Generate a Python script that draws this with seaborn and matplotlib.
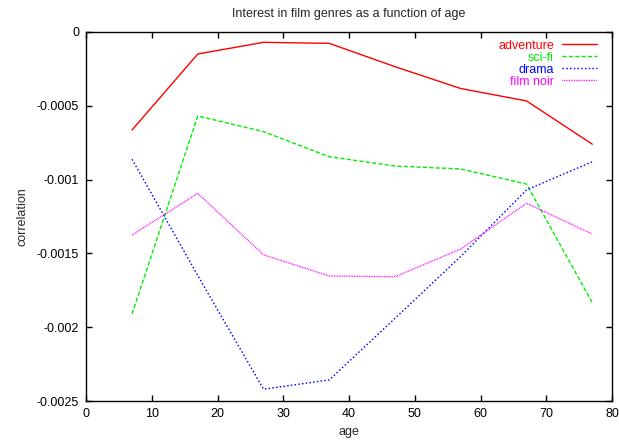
import numpy as np
import pandas as pd
import matplotlib
matplotlib.use("Agg")
import matplotlib.pyplot as plt
import matplotlib.ticker as mticker
import seaborn as sns

ages = [7, 17, 27, 37, 47, 57, 67, 77]
genres = ["adventure", "sci-fi", "drama", "film noir"]

adventure = [-0.000664, -0.000149, -0.000070, -0.000077, -0.000235, -0.000383, -0.000467, -0.000760]
scifi = [-0.00191, -0.000569, -0.000675, -0.000845, -0.000908, -0.000928, -0.00103, -0.001834]
drama = [-0.000862, -0.00165, -0.00242, -0.002357, -0.00194, -0.00152, -0.00107, -0.000879]
film_noir = [-0.001375, -0.001093, -0.00151, -0.001653, -0.001658, -0.00147, -0.00116, -0.001369]

colors = ["#ff0000", "#00ee00", "#0000ff", "#ff00ff"]
dashes = [None, (3, 1.6), (1.1, 1.6), (0.6, 0.6)]

df = pd.DataFrame({"age": ages * 4,
                   "genre": np.repeat(genres, len(ages)),
                   "correlation": adventure + scifi + drama + film_noir})

sns.set_theme(style="white")
plt.rcParams["font.family"] = ["Liberation Sans", "DejaVu Sans"]
plt.rcParams["font.size"] = 9

fig = plt.figure(figsize=(6.19, 4.43), dpi=100)
ax = fig.add_axes([86 / 619, 1 - 401 / 443, (612 - 86) / 619, (401 - 32) / 443])

for g, c, d in zip(genres, colors, dashes):
    sub = df[df["genre"] == g]
    line = sns.lineplot(data=sub, x="age", y="correlation", ax=ax, color=c,
                        linewidth=1.0, label=g).lines[-1]
    if d is not None:
        line.set_dashes(d)

ax.set_xlim(0, 80)
ax.set_ylim(-0.0025, 0)
ax.xaxis.set_major_locator(mticker.MultipleLocator(10))
ax.yaxis.set_major_locator(mticker.MultipleLocator(0.0005))
ax.yaxis.set_major_formatter(mticker.FuncFormatter(lambda v, p: "%g" % round(v, 6)))
ax.tick_params(direction="in", length=4, width=1, top=True, right=True,
               bottom=True, left=True, labelsize=9, colors="black", pad=5)
for s in ax.spines.values():
    s.set_color("black")
    s.set_linewidth(1)

ax.set_xlabel("age", fontsize=9, labelpad=4)
ax.set_ylabel("correlation", fontsize=9, labelpad=6)
ax.set_title("Interest in film genres as a function of age", fontsize=9, pad=11)

leg = ax.legend(loc="upper right", bbox_to_anchor=(0.988, 1.003), frameon=False,
                markerfirst=False, labelcolor="linecolor", fontsize=9,
                handlelength=2.8, handletextpad=0.64, labelspacing=0.0,
                borderaxespad=0.3)

fig.savefig("out.png", dpi=100)
